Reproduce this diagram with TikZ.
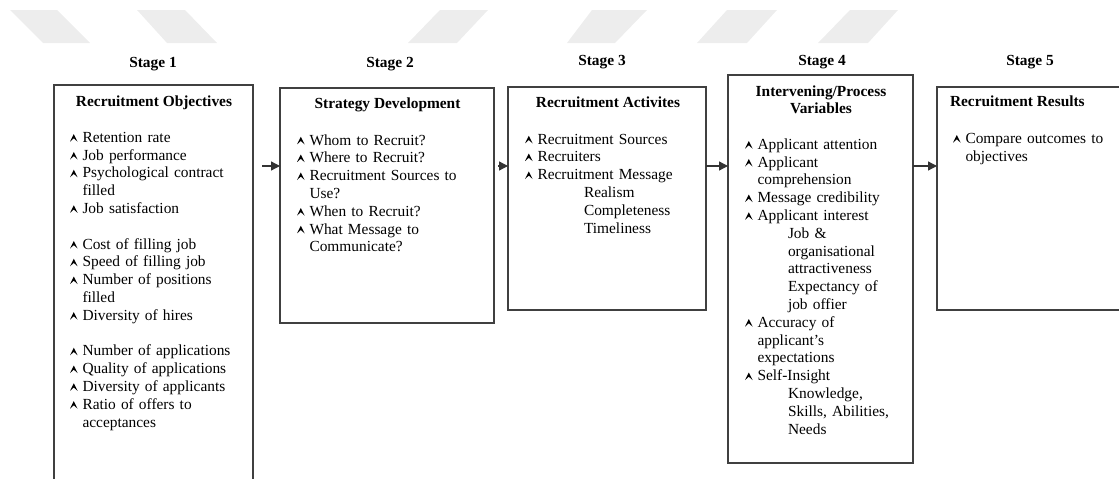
\documentclass[tikz,border=0pt]{standalone}
\usepackage{fontspec}
\setmainfont{Liberation Serif}
\usetikzlibrary{arrows.meta}

\newcommand{\tipmark}{\tikz[baseline=-0.6pt,x=1pt,y=1pt]\fill[black] (0,0) -- (3.8,7.6) -- (7.6,0) -- (3.8,3.4) -- cycle;}
\newcommand{\itm}{\makebox[12.5pt][l]{\tipmark}}
\newcommand{\cnt}{\hspace*{12.5pt}}

\begin{document}
\begin{tikzpicture}[x=1pt,y=-1pt,
  every node/.style={inner sep=0pt,outer sep=0pt,font=\fontsize{15.4}{17.8}\selectfont},
  stagebox/.style={draw=black!75,line width=1.2pt,anchor=north west},
  stagelabel/.style={anchor=base,font=\fontsize{15.4}{17.8}\selectfont\bfseries},
  boxtitle/.style={anchor=base,font=\fontsize{15.4}{17.8}\selectfont\bfseries},
  itemlist/.style={anchor=base west,align=left},
  flow/.style={draw=black!80,line width=1.3pt,-{Triangle[length=9pt,width=9pt]}},
  wmark/.style={fill=black!7}]
\useasboundingbox (0,0) rectangle (1119,479);
\clip (0,0) rectangle (1119,479);

\fill[wmark] (10,10) -- (57,10) -- (90,43) -- (43,43) -- cycle;
\fill[wmark] (137,10) -- (185,10) -- (217,43) -- (167,43) -- cycle;
\fill[wmark] (440,10) -- (488,10) -- (457,43) -- (408,43) -- cycle;
\fill[wmark] (592,10) -- (647,10) -- (615,43) -- (567,43) -- cycle;
\fill[wmark] (727,10) -- (777,10) -- (747,43) -- (697,43) -- cycle;
\fill[wmark] (850,10) -- (898,10) -- (868,43) -- (818,43) -- cycle;

\node[stagelabel] (s1) at (153,67) {Stage 1};
\node[stagelabel] (s2) at (390,67) {Stage 2};
\node[stagelabel] (s3) at (602,65) {Stage 3};
\node[stagelabel] (s4) at (822,65) {Stage 4};
\node[stagelabel] (s5) at (1030,65) {Stage 5};

\node[stagebox,minimum width=199pt,minimum height=420pt] (obj) at (54,85) {};
\node[stagebox,minimum width=214pt,minimum height=235pt] (strat) at (280,88) {};
\node[stagebox,minimum width=198pt,minimum height=223pt] (act) at (508,87) {};
\node[stagebox,minimum width=185pt,minimum height=388pt] (interv) at (728,75) {};
\node[stagebox,minimum width=200pt,minimum height=223pt] (results) at (937,87) {};

\node[boxtitle] (objt) at (154,106.7) {Recruitment Objectives};
\node[boxtitle] (stratt) at (387.5,108.3) {Strategy Development};
\node[boxtitle] (actt) at (608,107.3) {Recruitment Activites};
\node[boxtitle,text width=180pt,align=center] (intervt) at (821,96) {Intervening/Process\\Variables};
\node[boxtitle,anchor=base west] (resultst) at (950,106.7) {Recruitment Results};

\node[itemlist,text width=178pt] (objl) at (70,142.3) {\itm Retention rate\\
\itm Job performance\\
\itm Psychological contract\\
\cnt filled\\
\itm Job satisfaction\\[17.8pt]
\itm Cost of filling job\\
\itm Speed of filling job\\
\itm Number of positions\\
\cnt filled\\
\itm Diversity of hires\\[17.8pt]
\itm Number of applications\\
\itm Quality of applications\\
\itm Diversity of applicants\\
\itm Ratio of offers to\\
\cnt acceptances};

\node[itemlist,text width=190pt] (stratl) at (297,145) {\itm Whom to Recruit?\\
\itm Where to Recruit?\\
\itm Recruitment Sources to\\
\cnt Use?\\
\itm When to Recruit?\\
\itm What Message to\\
\cnt Communicate?};

\node[itemlist,text width=176pt] (actl) at (525,144) {\itm Recruitment Sources\\
\itm Recruiters\\
\itm Recruitment Message\\
\hspace*{59pt}Realism\\
\hspace*{59pt}Completeness\\
\hspace*{59pt}Timeliness};

\node[itemlist,text width=164pt] (intervl) at (745,149.3) {\itm Applicant attention\\
\itm Applicant\\
\cnt comprehension\\
\itm Message credibility\\
\itm Applicant interest\\
\hspace*{43pt}Job \&\\
\hspace*{43pt}organisational\\
\hspace*{43pt}attractiveness\\
\hspace*{43pt}Expectancy of\\
\hspace*{43pt}job offier\\
\itm Accuracy of\\
\cnt applicant’s\\
\cnt expectations\\
\itm Self-Insight\\
\hspace*{43pt}Knowledge,\\
\hspace*{43pt}Skills, Abilities,\\
\hspace*{43pt}Needs};

\node[itemlist,text width=160pt] (resultsl) at (953,143.3) {\itm Compare outcomes to\\
\cnt objectives};

\coordinate (lvl) at (0,166);
\draw[flow] ([xshift=9pt]obj.east |- lvl) -- (strat.west |- lvl);
\draw[flow] ([xshift=4pt]strat.east |- lvl) -- (act.west |- lvl);
\draw[flow] (act.east |- lvl) -- (interv.west |- lvl);
\draw[flow] (interv.east |- lvl) -- (results.west |- lvl);
\end{tikzpicture}
\end{document}
